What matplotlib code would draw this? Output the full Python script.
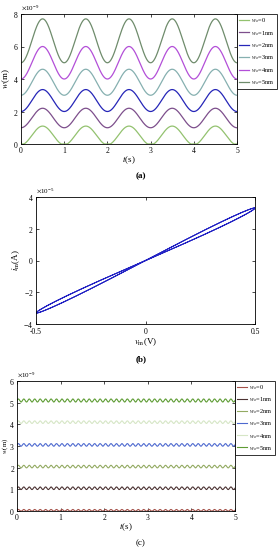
"""
Three-panel memristor figure: w(t) for several w0, i-v pinched loop, w(t) at high frequency.
"""

import numpy as np
import matplotlib

matplotlib.use("Agg")
import matplotlib.pyplot as plt
from matplotlib.ticker import ScalarFormatter

plt.rcParams["font.family"] = ["Liberation Serif", "DejaVu Serif"]
plt.rcParams["mathtext.fontset"] = "stix"
plt.rcParams["font.size"] = 5.5
plt.rcParams["axes.unicode_minus"] = False

# ---- panel (a): slow drive, one period per second ----
labels_a = ["$w_o$=0", "$w_o$=1nm", "$w_o$=2nm", "$w_o$=3nm", "$w_o$=4nm", "$w_o$=5nm"]
wmin_a = [0.0, 1.0, 2.0, 3.0, 4.0, 5.0]          # x1e-9 m
wmax_a = [1.05, 2.2, 3.35, 4.6, 6.0, 7.7]        # x1e-9 m
colors_a = ["#93c26f", "#7d4f8c", "#2626b8", "#86b0b0", "#b34fd8", "#6f8c6c"]
freq_a = 1.0

# ---- panel (b): pinched hysteresis loop ----
v_amp = 0.5          # V
i_peak = 3.3e-5      # A
loop_open = 0.09     # relative opening of the loop
n_cycles_b = 2

# ---- panel (c): fast drive ----
labels_c = labels_a
base_c = [0.03, 1.05, 2.05, 3.05, 4.1, 5.1]      # x1e-9 m
amp_c = [0.04, 0.06, 0.06, 0.06, 0.06, 0.07]     # x1e-9 m
colors_c = ["#a5524a", "#4b3232", "#93aa62", "#4d69cf", "#d6e6c6", "#5e9c34"]
freq_c = 8.0

W, H = 279, 550
fig = plt.figure(figsize=(W / 100, H / 100), dpi=100)


def box(x0, y0, x1, y1):
    return [x0 / W, 1 - y1 / H, (x1 - x0) / W, (y1 - y0) / H]


def style(ax):
    ax.tick_params(direction="in", top=True, right=True, length=2, width=0.5,
                   labelsize=5.5, pad=2)
    for s in ax.spines.values():
        s.set_linewidth(0.6)
    fmt = ScalarFormatter(useMathText=True)
    fmt.set_powerlimits((0, 0))
    ax.yaxis.set_major_formatter(fmt)
    ax.yaxis.get_offset_text().set_fontsize(5)


def legend(ax, spacing):
    leg = ax.legend(loc="upper left", bbox_to_anchor=(1.0, 1.0), fontsize=4.6,
                    frameon=True, fancybox=False, edgecolor="black", handlelength=1.6,
                    handletextpad=0.3, borderpad=0.35, labelspacing=spacing,
                    borderaxespad=0)
    leg.get_frame().set_linewidth(0.7)


# (a)
t = np.linspace(0, 5, 1500)
ax = fig.add_axes(box(21, 14, 237, 144))
for i, (lo, hi, c, lab) in enumerate(zip(wmin_a, wmax_a, colors_a, labels_a)):
    if i == 0:
        w = np.maximum(0, 0.5 * hi - 0.55 * hi * np.cos(2 * np.pi * freq_a * t))
    else:
        w = lo + (hi - lo) * (1 - np.cos(2 * np.pi * freq_a * t)) / 2
    ax.plot(t, w * 1e-9, color=c, lw=0.9, label=lab)
ax.set_xlim(0, 5)
ax.set_ylim(0, 8e-9)
ax.set_xticks(range(6))
ax.set_yticks(np.arange(0, 9, 2) * 1e-9)
style(ax)
ax.set_xlabel("$t$(s)", fontsize=6.5, labelpad=0)
ax.set_ylabel("$w$(m)", fontsize=6.5, labelpad=0.5)
legend(ax, 0.55)
fig.text(141 / W, 1 - 176 / H, "(a)", ha="center", va="center", fontsize=6.5,
         fontweight="bold")

# (b)
th = np.linspace(0, 2 * np.pi * n_cycles_b, 2000)
v = v_amp * np.sin(th)
i_m = (i_peak / v_amp) * v * (1 + loop_open * np.cos(th))
ax = fig.add_axes(box(36, 197, 255, 324))
ax.plot(v, i_m, color="#2323c4", lw=0.7)
ax.set_xlim(-0.5, 0.5)
ax.set_ylim(-4e-5, 4e-5)
ax.set_xticks([-0.5, 0, 0.5])
ax.set_xticklabels(["-0.5", "0", "0.5"])
ax.set_yticks(np.arange(-4, 5, 2) * 1e-5)
style(ax)
ax.tick_params(axis="x", pad=3)
ax.set_xlabel("$v_{\\mathrm{m}}$(V)", fontsize=6.5, labelpad=0)
ax.set_ylabel("$i_{\\mathrm{m}}$(A)", fontsize=6.5, labelpad=1)
fig.text(141 / W, 1 - 359 / H, "(b)", ha="center", va="center", fontsize=6.5,
         fontweight="bold")

# (c)
ax = fig.add_axes(box(17, 381, 235, 511))
for b, a, c, lab in zip(base_c, amp_c, colors_c, labels_c):
    w = b + a * np.sin(2 * np.pi * freq_c * t)
    ax.plot(t, w * 1e-9, color=c, lw=0.8, label=lab)
ax.set_xlim(0, 5)
ax.set_ylim(0, 6e-9)
ax.set_xticks(range(6))
ax.set_yticks(np.arange(0, 7) * 1e-9)
style(ax)
ax.tick_params(axis="y", pad=1.5)
ax.set_xlabel("$t$(s)", fontsize=6.5, labelpad=0)
ax.set_ylabel("$w$(m)", fontsize=5)
ax.yaxis.set_label_coords(-0.033, 0.5)
legend(ax, 0.5)
fig.text(141 / W, 1 - 543 / H, "(c)", ha="center", va="center", fontsize=6.5)

fig.savefig("out.png", dpi=100)
